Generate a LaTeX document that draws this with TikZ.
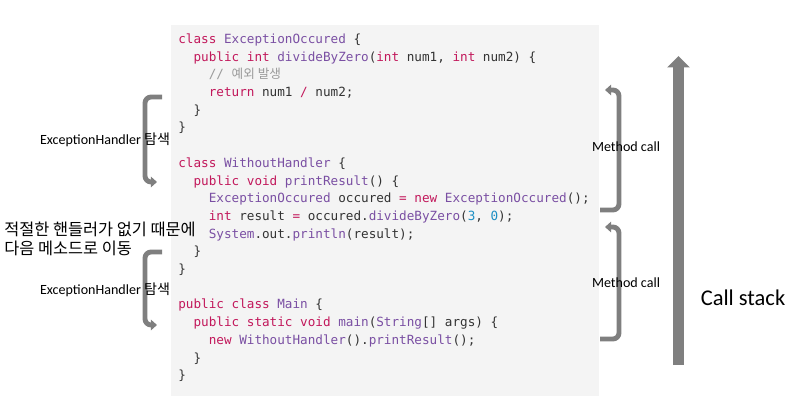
\documentclass[tikz,border=0pt]{standalone}
\usepackage{fontspec}
\setmainfont{Carlito}
\setmonofont{DejaVu Sans Mono}
\newfontfamily\kr{Noto Sans CJK KR}
\usepackage{xcolor}
\usepackage{tikz}
\usetikzlibrary{arrows.meta,positioning}

\definecolor{kwc}{HTML}{C2185B}
\definecolor{tyc}{HTML}{7A4FA3}
\definecolor{nmc}{HTML}{1C8FC4}
\definecolor{cmc}{HTML}{9A9A9A}
\definecolor{txc}{HTML}{333333}
\definecolor{panel}{HTML}{F4F4F4}
\definecolor{arr}{HTML}{7F7F7F}
\newcommand{\kw}[1]{\textcolor{kwc}{#1}}
\newcommand{\ty}[1]{\textcolor{tyc}{#1}}
\newcommand{\nm}[1]{\textcolor{nmc}{#1}}
\newcommand{\tb}{\phantom{xx}}

\begin{document}
\begin{tikzpicture}[x=0.02cm,y=-0.02cm,>=Latex]
\tikzset{brk/.style={draw=arr,line width=2.8pt,rounded corners=3.5pt,-{Triangle[width=6pt,length=3.5pt]}},
  lbl/.style={font=\fontsize{8}{9.6}\selectfont,inner sep=0pt}}
\useasboundingbox (0,0) rectangle (800,415);
\fill[panel] (171,25) rectangle (599,396);
% code
\node[anchor=north west,inner sep=0pt,align=left,text=txc,font=\ttfamily\fontsize{7.2}{10.07}\selectfont] (code) at (178,33.5) {%
\kw{class} \ty{ExceptionOccured} \{\\
\tb\kw{public} \kw{int} \ty{divideByZero}(\kw{int} num1, \kw{int} num2) \{\\
\tb\tb\textcolor{cmc}{// {\kr 예외 발생}}\\
\tb\tb\kw{return} num1 \kw{/} num2;\\
\tb\}\\
\}\\[10.07pt]
\kw{class} \ty{WithoutHandler} \{\\
\tb\kw{public} \kw{void} \ty{printResult}() \{\\
\tb\tb\ty{ExceptionOccured} occured \kw{=} \kw{new} \ty{ExceptionOccured}();\\
\tb\tb\kw{int} result \kw{=} occured.\ty{divideByZero}(\nm{3}, \nm{0});\\
\tb\tb\ty{System}.out.\ty{println}(result);\\
\tb\}\\
\}\\[10.07pt]
\kw{public} \kw{class} \ty{Main} \{\\
\tb\kw{public} \kw{static} \kw{void} \ty{main}(\ty{String}[] args) \{\\
\tb\tb\kw{new} \ty{WithoutHandler}().\ty{printResult}();\\
\tb\}\\
\}};
% handler search
\coordinate (h1s) at (162,97);
\coordinate (h1e) at (157,182);
\coordinate (h2s) at (162,252);
\coordinate (h2e) at (157,325);
\draw[brk] (h1s) -- ++(-17,0) |- (h1e);
\draw[brk] (h2s) -- ++(-17,0) |- (h2e);
\node[lbl] (eh1) at (105,140) {ExceptionHandler {\kr 탐색}};
\node[lbl] (eh2) at (105,290) {ExceptionHandler {\kr 탐색}};
\node[anchor=west,align=left,inner sep=0pt,font=\kr\fontsize{9.3}{10.4}\selectfont] (note) at (4,239) {적절한 핸들러가 없기 때문에\\다음 메소드로 이동};
% method calls
\coordinate (m1s) at (600,210);
\coordinate (m1e) at (605,90);
\coordinate (m2s) at (600,339);
\coordinate (m2e) at (605,227);
\draw[brk] (m1s) -- ++(19,0) |- (m1e);
\draw[brk] (m2s) -- ++(19,0) |- (m2e);
\node[lbl] (mc1) at (626,147) {Method call};
\node[lbl] (mc2) at (626,283) {Method call};
% call stack
\coordinate (cs0) at (678.5,365);
\coordinate (cs1) at (678.5,56);
\draw[arr,line width=6.3pt,-{Triangle[width=12.5pt,length=6.5pt]}] (cs0) -- (cs1);
\node[font=\fontsize{12.8}{15}\selectfont,inner sep=0pt] (cstk) at (743,298) {Call stack};
\end{tikzpicture}
\end{document}
